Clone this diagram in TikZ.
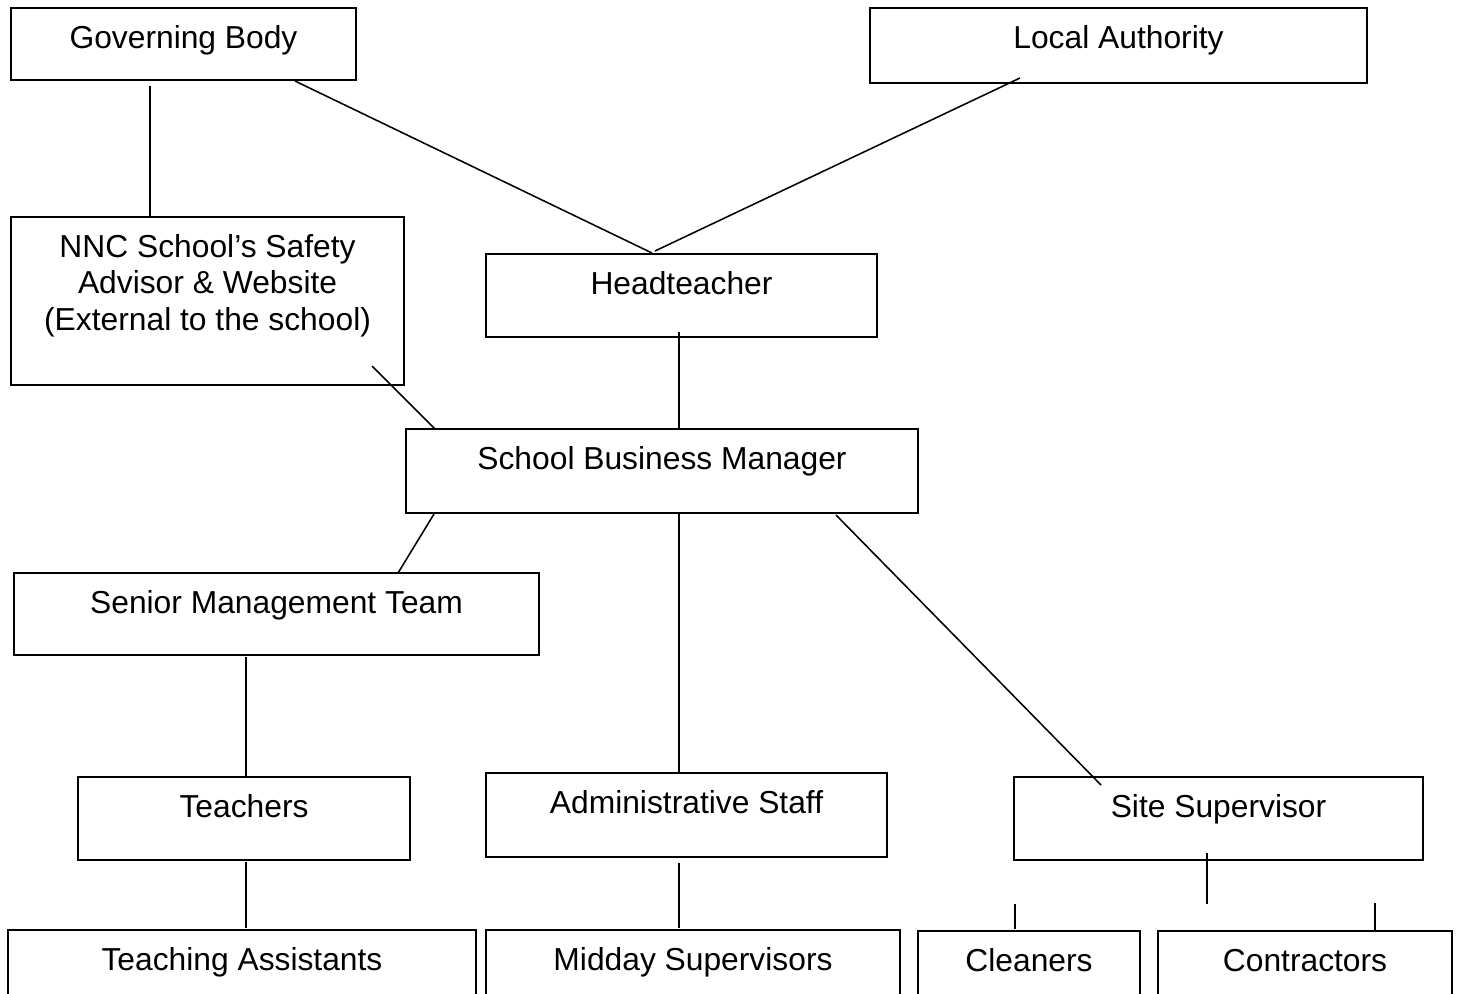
\documentclass[tikz,border=0pt]{standalone}
\usepackage{fontspec}
\setmainfont{Liberation Sans}
\usetikzlibrary{calc}
\tikzset{
	orgbox/.style n args={2}{draw,line width=1.5pt,anchor=north west,inner sep=0pt,outer sep=0pt,minimum width=#1,text height=1cm,text depth=#2,font=\fontsize{22.6}{26.3}\selectfont},
	link/.style={line width=1.1pt}
}
\begin{document}
\begin{tikzpicture}[x=0.025cm,y=-0.025cm]
		\useasboundingbox (0,0) rectangle (1459,993);
		\foreach \n/\x/\y/\w/\h/\t in {gb/11/8/345/72/Governing Body,la/870/8/497/75/Local Authority,head/486/254/391/83/Headteacher,sbm/406/429/512/84/School Business Manager,smt/14/573/525/82/Senior Management Team,teach/78/777/332/83/Teachers,admin/486/773/401/84/Administrative Staff,site/1014/777/409/83/Site Supervisor,ta/8/930/468/80/Teaching Assistants,mid/486/930/414/80/Midday Supervisors,clean/918/931/222/80/Cleaners,contr/1158/931/294/80/Contractors} {
			\pgfmathsetmacro\bw{\w*0.025}
			\pgfmathsetmacro\bd{(\h-40)*0.025}
			\node[orgbox={\bw cm}{\bd cm}] (\n) at (\x,\y) {\t};
		}
		\node[orgbox={9.825cm}{3.2cm}] (nnc) at (11,217) {\begin{tabular}[t]{@{}c@{}}NNC School’s Safety\\Advisor \& Website\\(External to the school)\end{tabular}};
		\draw[link] ($(gb.south west)+(139,6)$) -- ($(nnc.north west)+(139,0)$);
		\draw[link] ($(gb.south east)+(-61,1)$) -- ($(head.north)+(-29.5,-1)$);
		\draw[link] ($(la.south west)+(150,-5)$) -- ($(head.north)+(-26.5,-3)$);
		\draw[link] ($(head.south)+(-2.5,-5)$) -- ($(sbm.north west)+(273,0)$);
		\draw[link] ($(nnc.south east)+(-32,-19)$) -- ($(sbm.north west)+(29,0)$);
		\draw[link] ($(sbm.south west)+(28,1)$) -- ($(smt.north east)+(-141,0)$);
		\draw[link] ($(sbm.south west)+(273,1)$) -- ($(admin.north west)+(193,0)$);
		\draw[link] ($(sbm.south east)+(-82,2)$) -- ($(site.north west)+(87,8)$);
		\draw[link] ($(smt.south west)+(232,2)$) -- ($(teach.north west)+(168,0)$);
		\draw[link] ($(teach.south west)+(168,2)$) -- ($(ta.north west)+(238,-2)$);
		\draw[link] ($(admin.south west)+(193,6)$) -- ($(mid.north west)+(193,-2)$);
		\coordinate (fork) at ($(site.south west)+(193,44)$);
		\draw[link] ($(site.south west)+(193,-7)$) -- (fork);
		\draw[link] ($(clean.north west)+(97,-27)$) -- ($(clean.north west)+(97,-2)$);
		\draw[link] ($(contr.north west)+(217,-28)$) -- ($(contr.north west)+(217,0)$);
	\end{tikzpicture}
\end{document}
